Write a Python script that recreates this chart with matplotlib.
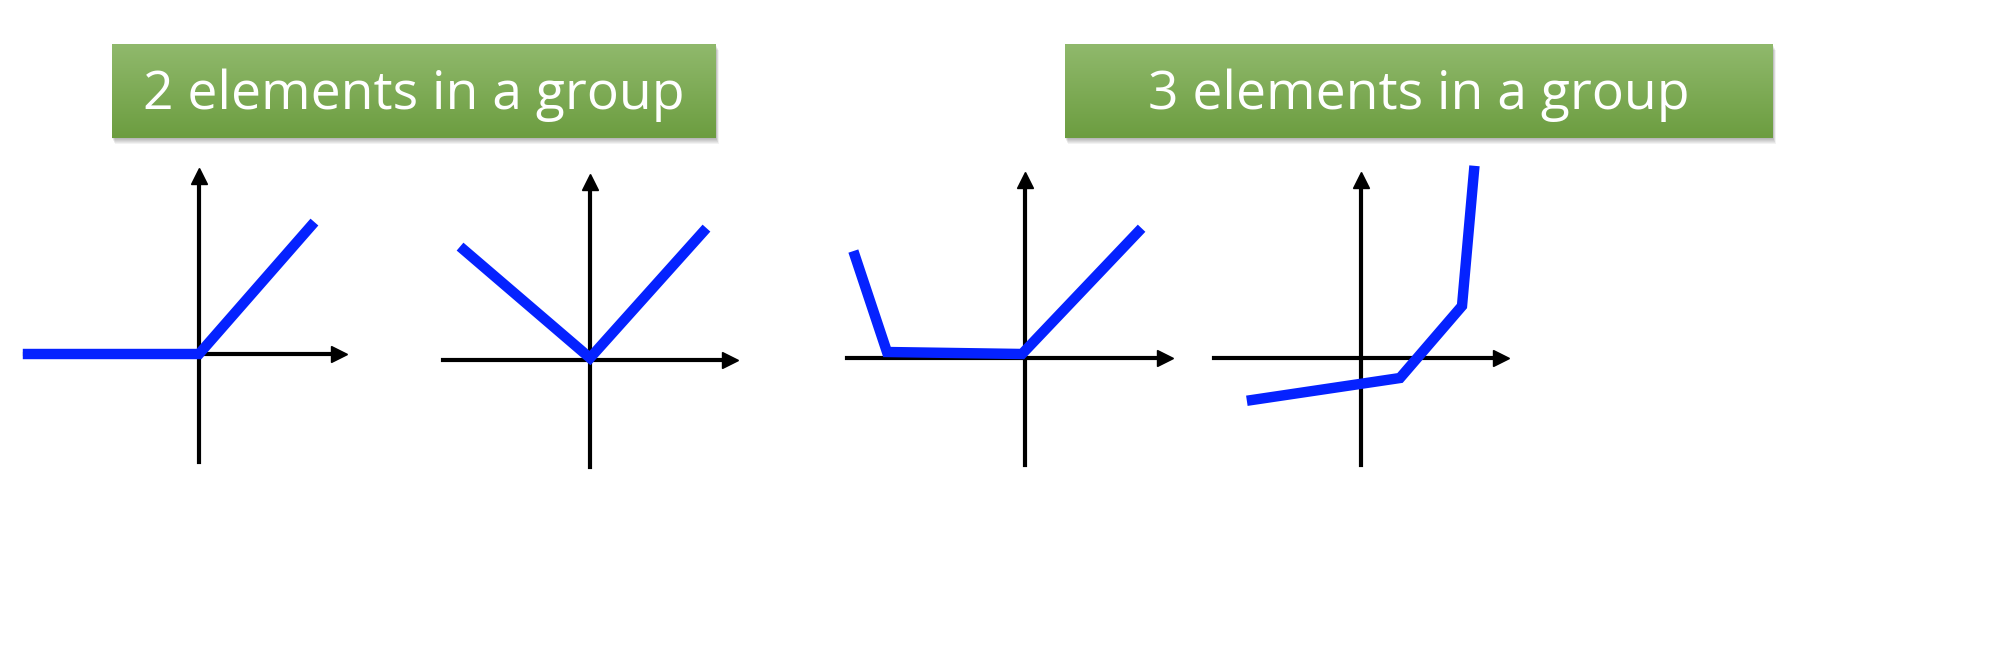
import matplotlib
matplotlib.use("Agg")
import matplotlib.pyplot as plt
import numpy as np

W, H = 2008, 662
titles = ["2 elements in a group", "3 elements in a group"]
title_boxes = [(112, 716, 44, 138), (1065, 1773, 44, 138)]

# axes per panel: (x_left, x_right, y_axis, x_axis_pos, y_bottom, y_top)
axes_def = [(25, 345, 354, 199, 462, 170),
            (443, 736, 360, 590, 467, 176),
            (847, 1171, 358, 1025, 465, 174),
            (1214, 1507, 358, 1361, 465, 174)]
curves_x = [[28, 199, 311],
            [464, 590, 703],
            [855, 887, 1022, 1138],
            [1252, 1400, 1462, 1474]]
curves_y = [[354, 354, 226],
            [250, 358, 232],
            [256, 352, 354, 232],
            [400, 378, 306, 171]]

fig = plt.figure(figsize=(W/100, H/100), dpi=100)
ax = fig.add_axes([0, 0, 1, 1])
ax.set_xlim(0, W); ax.set_ylim(H, 0); ax.axis("off")

grad = np.linspace(0, 1, 100).reshape(-1, 1)
top = np.array([0x90, 0xb9, 0x6c]) / 255
bot = np.array([0x6c, 0x9d, 0x40]) / 255
img = top[None, None, :] * (1 - grad[..., None]) + bot[None, None, :] * grad[..., None]
for (x0, x1, y0, y1), t in zip(title_boxes, titles):
    for k in range(6, 0, -1):
        ax.add_patch(plt.Rectangle((x0 + k*0.5, y0 + k), x1 - x0, y1 - y0,
                                   color="black", alpha=0.05, lw=0, zorder=1))
    ax.imshow(img, extent=(x0, x1, y1, y0), aspect="auto", zorder=2)
    ax.text((x0 + x1) / 2, (y0 + y1) / 2 + 4, t, color="white", fontsize=38.5,
            family="Open Sans", ha="center", va="center", zorder=3)

for (xl, xr, ya, xa, yb, yt), cx, cy in zip(axes_def, curves_x, curves_y):
    ax.plot([xl, xr - 8], [ya, ya], color="black", lw=3, zorder=4)
    ax.plot([xa, xa], [yb, yt + 8], color="black", lw=3, zorder=4)
    ax.plot([xr - 6], [ya], marker=">", color="black", ms=11, zorder=4)
    ax.plot([xa], [yt + 6], marker="^", color="black", ms=11, zorder=4)
    ax.plot(cx, cy, color="#0522ff", lw=7.5, solid_joinstyle="miter", zorder=5)

fig.savefig("out.png", dpi=100, facecolor="white")
